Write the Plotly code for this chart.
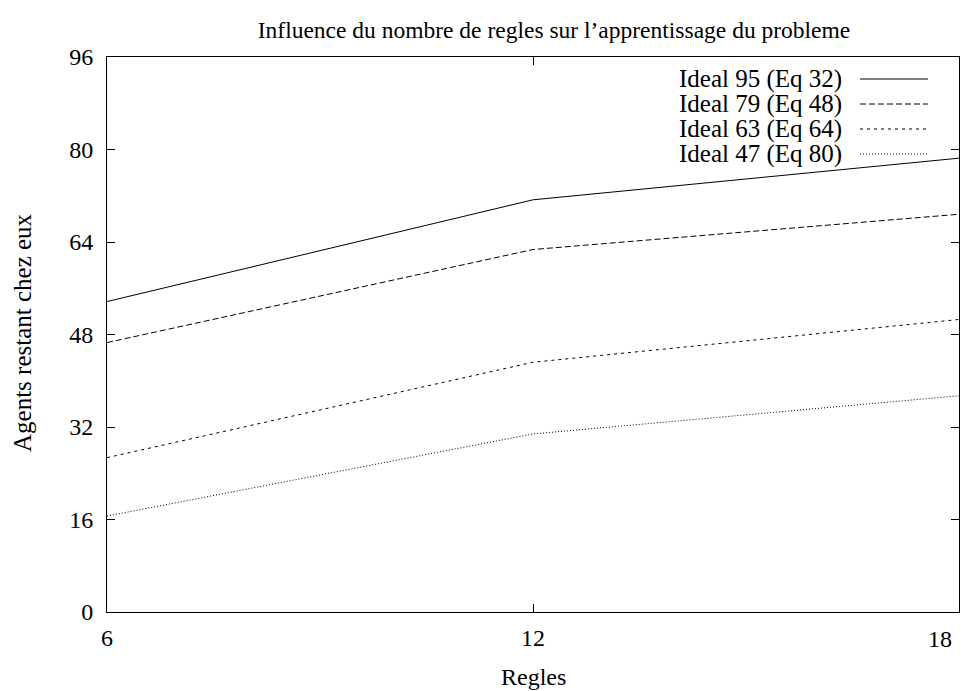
import plotly.graph_objects as go

regles = [6, 12, 18]
ideal95 = [53.7, 71.3, 78.5]
ideal79 = [46.6, 62.7, 68.8]
ideal63 = [26.7, 43.2, 50.6]
ideal47 = [16.6, 30.8, 37.4]
series_names = ["Ideal 95 (Eq 32)", "Ideal 79 (Eq 48)", "Ideal 63 (Eq 64)", "Ideal 47 (Eq 80)"]
y_ticks = [0, 16, 32, 48, 64, 80, 96]
x_ticks = [6, 12, 18]
x_ticktext = ["6", "12", ""]
last_x_label = "18"

dashes = ["solid", "6px,3px", "3px,4px", "1px,2px"]
FONT = "Liberation Serif"
FS = 24

fig = go.Figure()
for name, vals, d in zip(series_names, [ideal95, ideal79, ideal63, ideal47], dashes):
    fig.add_trace(go.Scatter(x=regles, y=vals, mode="lines", name=name,
                             line=dict(color="black", width=1, dash=d),
                             showlegend=False))

W, H = 976, 691
L, T, R, B = 107, 57, 976 - 959, 691 - 612
pw, ph = W - L - R, H - T - B
def px(x):
    return (x - L) / pw
def py(y):
    return 1 - (y - T) / ph

rows = [79, 104, 129, 154]
for name, d, yy in zip(series_names, dashes, rows):
    fig.add_annotation(x=px(844), y=py(yy), xref="paper", yref="paper",
                       text=name, showarrow=False, xanchor="right", yanchor="middle",
                       font=dict(family=FONT, size=25, color="black"))
    fig.add_shape(type="line", xref="paper", yref="paper",
                  x0=px(860), x1=px(928), y0=py(yy), y1=py(yy),
                  line=dict(color="black", width=1, dash=d))

# last x tick label, shifted left to stay inside the canvas (as in the reference)
fig.add_annotation(x=x_ticks[-1], y=0, xref="x", yref="y", text=last_x_label,
                   showarrow=False, xanchor="center", yanchor="middle",
                   xshift=-19, yshift=-27,
                   font=dict(family=FONT, size=FS, color="black"))

fig.add_annotation(x=0.5, y=py(677), xref="paper", yref="paper", text="Regles",
                   showarrow=False, xanchor="center", yanchor="middle",
                   font=dict(family=FONT, size=FS, color="black"))
fig.add_annotation(x=px(22), y=py(333), xref="paper", yref="paper",
                   text="Agents restant chez eux", textangle=-90,
                   showarrow=False, xanchor="center", yanchor="middle",
                   font=dict(family=FONT, size=25, color="black"))

fig.update_layout(
    width=W, height=H,
    margin=dict(l=L, r=R, t=T, b=B, pad=0, autoexpand=False),
    paper_bgcolor="white", plot_bgcolor="white",
    font=dict(family=FONT, size=FS, color="black"),
    title=dict(text="Influence du nombre de regles sur l\u2019apprentissage du probleme",
               x=px(554), xanchor="center", xref="paper", y=1 - 30 / H, yanchor="middle",
               font=dict(family=FONT, size=23.5)),
    xaxis=dict(range=[6, 18], tickvals=x_ticks, ticktext=x_ticktext, automargin=False,
               ticks="inside", ticklen=8,
               showgrid=False, zeroline=False, showline=True, linecolor="black",
               linewidth=1, mirror="ticks", tickcolor="black", ticklabelstandoff=4),
    yaxis=dict(range=[0, 96], tickvals=y_ticks, ticks="inside", ticklen=8, automargin=False,
               showgrid=False, zeroline=False, showline=True, linecolor="black",
               linewidth=1, mirror="ticks", tickcolor="black", ticklabelstandoff=8),
)

fig.write_html("out.html", config={"displayModeBar": False},
               post_script="document.body.style.margin='0';document.body.style.overflow='hidden';")
